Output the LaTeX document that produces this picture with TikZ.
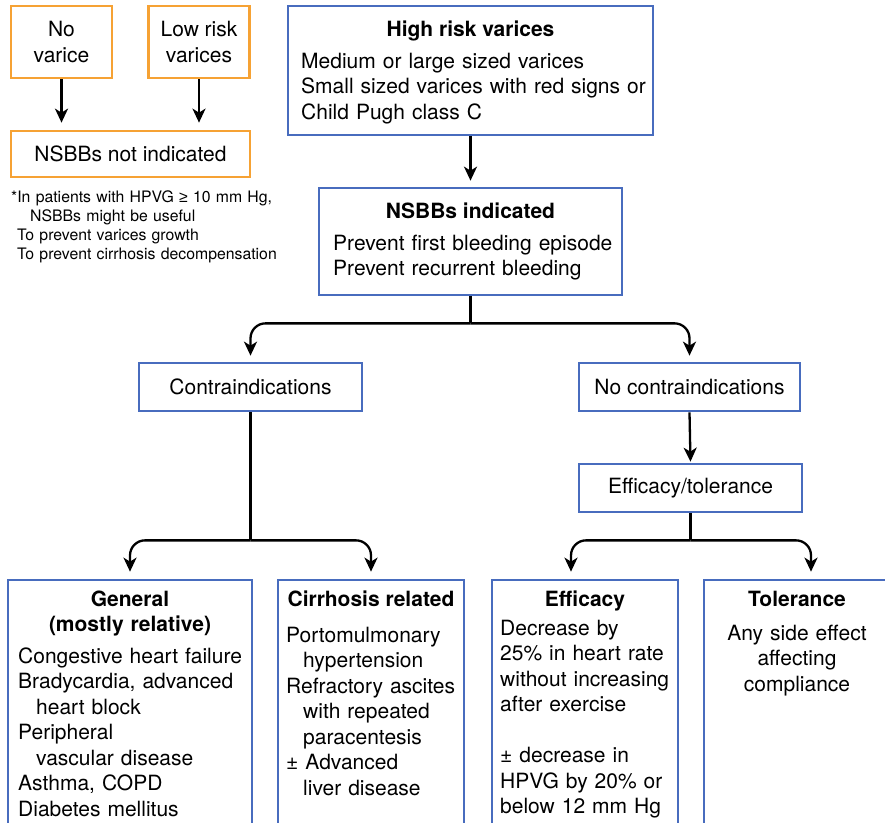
\documentclass[tikz,border=0pt]{standalone}
\usepackage{fontspec}
\setmainfont{TeX Gyre Heros}
\newfontfamily\symfont{Liberation Sans}
\usetikzlibrary{arrows.meta}

\definecolor{boxblue}{RGB}{72,108,190}
\definecolor{boxorange}{RGB}{246,162,52}

\begin{document}
\begin{tikzpicture}[x=1pt, y=-1pt, >={Stealth[length=14pt, width=13pt, inset=4pt]},
    bluebox/.style={draw=boxblue, line width=2.7pt, inner sep=0pt},
    orangebox/.style={draw=boxorange, line width=2.7pt, inner sep=0pt},
    txt/.style={inner sep=0pt, font=\fontsize{21}{25.5}\selectfont},
    small/.style={inner sep=0pt, font=\fontsize{15.8}{19.2}\selectfont},
    link/.style={line width=2.3pt},
    arr/.style={->, line width=2.3pt, shorten >=6pt, rounded corners=15pt}]
    \useasboundingbox (0,0) rectangle (885,822);
    \clip (0,0) rectangle (885,822);

    % Nodes for low risk part
    \node[orangebox, txt, align=center, minimum width=101, minimum height=72] (novar) at (61.5,42) {No\\varice};
    \node[orangebox, txt, align=center, minimum width=101, minimum height=72] (lowrisk) at (199,42) {Low risk\\varices};
    \node[orangebox, txt, minimum width=239, minimum height=46] (notind) at (130.5,154) {NSBBs not indicated};
    \node[small, align=left, text width=280, anchor=base west] (note) at (11,202)
        {*In patients with HPVG {\symfont ≥} 10 mm Hg,\\\hspace*{19pt}NSBBs might be useful\\\hspace*{6pt}To prevent varices growth\\\hspace*{6pt}To prevent cirrhosis decompensation};

    % Nodes for high risk part
    \node[bluebox, minimum width=365, minimum height=129] (high) at (470.5,70.5) {};
    \node[txt, anchor=base] (hightitle) at (470.5,36) {\bfseries High risk varices};
    \node[txt, align=left, text width=350, anchor=base west] (highlist) at (301,68)
        {Medium or large sized varices\\Small sized varices with red signs or\\Child Pugh class C};
    \node[bluebox, minimum width=303, minimum height=107] (ind) at (470.5,241.5) {};
    \node[txt, anchor=base] (indtitle) at (470.5,218) {\bfseries NSBBs indicated};
    \node[txt, align=left, text width=280, anchor=base west] (indlist) at (333,250)
        {Prevent first bleeding episode\\Prevent recurrent bleeding};

    \node[bluebox, txt, minimum width=223, minimum height=48] (contra) at (250.5,387) {Contraindications};
    \node[bluebox, txt, minimum width=221, minimum height=48] (nocontra) at (689.5,387) {No contraindications};
    \node[bluebox, txt, minimum width=223, minimum height=48] (efftol) at (690.5,488) {Efficacy/tolerance};

    % Bottom boxes (cut by the lower edge)
    \node[bluebox, minimum width=244, minimum height=260] (gen) at (130,710) {};
    \node[bluebox, minimum width=186, minimum height=260] (cir) at (371,710) {};
    \node[bluebox, minimum width=186, minimum height=260] (eff) at (585,710) {};
    \node[bluebox, minimum width=214, minimum height=260] (tol) at (811,710) {};

    \node[txt, align=center, text width=240, anchor=base] (gentitle) at (130,606) {\bfseries General\\\bfseries (mostly relative)};
    \node[txt, align=left, text width=232, anchor=base west] (genlist) at (18,663)
        {Congestive heart failure\\Bradycardia, advanced\\\hspace*{18pt}heart block\\Peripheral\\\hspace*{18pt}vascular disease\\Asthma, COPD\\Diabetes mellitus};
    \node[txt, anchor=base] (cirtitle) at (371,606) {\bfseries Cirrhosis related};
    \node[txt, align=left, text width=175, anchor=base west] (cirlist) at (286,642)
        {Portomulmonary\\\hspace*{17pt}hypertension\\Refractory ascites\\\hspace*{17pt}with repeated\\\hspace*{17pt}paracentesis\\± Advanced\\\hspace*{17pt}liver disease};
    \node[txt, anchor=base] (efftitle) at (585,606) {\bfseries Efficacy};
    \node[txt, align=left, text width=175, anchor=base west] (efflist) at (500,635)
        {Decrease by\\25\% in heart rate\\without increasing\\after exercise\\[25.5pt]± decrease in\\HPVG by 20\% or\\below 12 mm Hg};
    \node[txt, anchor=base] (toltitle) at (797,606) {\bfseries Tolerance};
    \node[txt, align=center, text width=200, anchor=base] (tollist) at (797,640)
        {Any side effect\\affecting\\compliance};

    % Connectors
    \draw[arr, shorten >=7pt] (novar.south) -- (novar.south |- notind.north);
    \draw[arr, shorten >=7pt] (lowrisk.south) -- (lowrisk.south |- notind.north);
    \draw[arr] (high.south) -- (ind.north);

    \path (ind.south) -- ++(0,27) coordinate (indsplit);
    \draw[link] (ind.south) -- (indsplit);
    \draw[arr] (indsplit) -| (contra.north);
    \draw[arr] (indsplit) -| (nocontra.north);
    \draw[arr, shorten >=1pt] (nocontra.south) -- (efftol.north);

    \path (contra.south) -- ++(0,128) coordinate (consplit);
    \draw[link] (contra.south) -- (consplit);
    \draw[arr, shorten >=7pt] (consplit) -| (gen.north);
    \draw[arr, shorten >=7pt] (consplit) -| (cir.north);

    \path (efftol.south) -- ++(0,27) coordinate (effsplit);
    \draw[link] (efftol.south) -- (effsplit);
    \draw[arr, shorten >=7pt] (effsplit) -| ([xshift=-14pt]eff.north);
    \draw[arr, shorten >=7pt] (effsplit) -| (tol.north);
\end{tikzpicture}
\end{document}
